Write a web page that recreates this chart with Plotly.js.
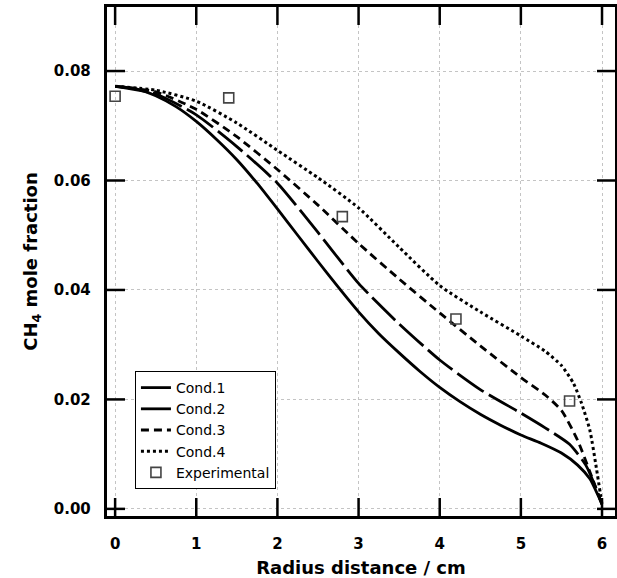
<!DOCTYPE html>
<html>
<head>
<meta charset="utf-8">
<script src="https://cdn.plot.ly/plotly-3.0.1.min.js"></script>
<style>html,body{margin:0;padding:0;background:#fff;}#chart{width:617px;height:578px;}</style>
</head>
<body>
<div id="chart"></div>
<script>
// Model curves
const cond1X = [0, 0.25, 0.5, 0.75, 1, 1.25, 1.5, 1.75, 2, 2.25, 2.5, 2.75, 3, 3.25, 3.5, 3.75, 4, 4.25, 4.5, 4.75, 5, 5.25, 5.5, 5.7, 5.85, 5.95, 6];
const cond1Y = [0.0772, 0.0768, 0.0755, 0.0735, 0.0708, 0.0675, 0.0638, 0.0595, 0.0548, 0.0500, 0.0452, 0.0405, 0.0360, 0.0320, 0.0285, 0.0252, 0.0222, 0.0196, 0.0173, 0.0153, 0.0135, 0.0120, 0.0102, 0.0080, 0.0055, 0.0025, 0.0008];

const cond2X = [0, 0.5, 1, 1.5, 2, 2.5, 3, 3.5, 4, 4.5, 5, 5.3, 5.6, 5.8, 5.92, 6];
const cond2Y = [0.0772, 0.0758, 0.0720, 0.0662, 0.0595, 0.0505, 0.0412, 0.0338, 0.0272, 0.0218, 0.0175, 0.0148, 0.0118, 0.0080, 0.0040, 0.0008];

const cond3X = [0, 0.5, 1, 1.5, 2, 2.5, 3, 3.5, 4, 4.5, 5, 5.3, 5.5, 5.7, 5.85, 6];
const cond3Y = [0.0772, 0.0762, 0.0730, 0.0680, 0.0620, 0.0555, 0.0485, 0.0420, 0.0358, 0.0298, 0.0240, 0.0208, 0.0180, 0.0125, 0.0068, 0.0008];

const cond4X = [0, 0.5, 1, 1.5, 2, 2.5, 3, 3.5, 4, 4.5, 5, 5.3, 5.5, 5.65, 5.75, 5.85, 5.93, 6];
const cond4Y = [0.0772, 0.0765, 0.0745, 0.0705, 0.0655, 0.0605, 0.0550, 0.0478, 0.0408, 0.0360, 0.0316, 0.0288, 0.0262, 0.0229, 0.0192, 0.0144, 0.0075, 0.0008];

// Experimental points
const expX = [0, 1.4, 2.8, 4.2, 5.6];
const expY = [0.0754, 0.0751, 0.0534, 0.0347, 0.0197];

const seriesNames = ["Cond.1", "Cond.2", "Cond.3", "Cond.4", "Experimental"];
const xTicks = [0, 1, 2, 3, 4, 5, 6];
const yTicks = [0.00, 0.02, 0.04, 0.06, 0.08];
const xRange = [-0.1, 6.16];
const yRange = [-0.0013, 0.0917];

const W = 617, H = 578;
const M = {l: 107, r: 2, t: 7, b: 62};
const TICK_LEN = 18;

const lineW = 2.8;
const traces = [
  {x: cond1X, y: cond1Y, name: seriesNames[0], mode: "lines", line: {color: "#000", width: lineW, dash: "solid", shape: "spline", smoothing: 0.6}},
  {x: cond2X, y: cond2Y, name: seriesNames[1], mode: "lines", line: {color: "#000", width: lineW, dash: "32px,6px", shape: "spline", smoothing: 0.6}},
  {x: cond3X, y: cond3Y, name: seriesNames[2], mode: "lines", line: {color: "#000", width: lineW, dash: "8px,5px", shape: "spline", smoothing: 0.6}},
  {x: cond4X, y: cond4Y, name: seriesNames[3], mode: "lines", line: {color: "#000", width: 3, dash: "3px,3px", shape: "spline", smoothing: 0.6}},
  {x: expX, y: expY, name: seriesNames[4], mode: "markers", marker: {symbol: "square-open", size: 10, color: "#444", line: {width: 1.6, color: "#444"}}}
];

// Inward tick marks on all four sides, built from the tick arrays and the axis ranges
const xPerPx = (xRange[1] - xRange[0]) / (W - M.l - M.r);
const yPerPx = (yRange[1] - yRange[0]) / (H - M.t - M.b);
const dxTick = TICK_LEN * xPerPx, dyTick = TICK_LEN * yPerPx;
const tx = [], ty = [];
xTicks.forEach(v => {
  tx.push(v, v, null, v, v, null);
  ty.push(yRange[0], yRange[0] + dyTick, null, yRange[1] - dyTick, yRange[1], null);
});
yTicks.forEach(v => {
  tx.push(xRange[0], xRange[0] + dxTick, null, xRange[1] - dxTick, xRange[1], null);
  ty.push(v, v, null, v, v, null);
});
traces.push({x: tx, y: ty, mode: "lines", line: {color: "#000", width: 2.5}, showlegend: false, hoverinfo: "skip", connectgaps: false});

const layout = {
  width: W, height: H,
  margin: M,
  showlegend: true,
  legend: {
    x: 0.055, y: 0.053, xanchor: "left", yanchor: "bottom",
    bgcolor: "#fff", bordercolor: "#000", borderwidth: 1,
    font: {family: "DejaVu Sans", size: 14, color: "#000"},
    tracegroupgap: 0
  },
  xaxis: {
    range: xRange, tickvals: xTicks, ticktext: xTicks.map(String),
    showline: true, linecolor: "#000", linewidth: 2.5, mirror: true,
    ticks: "", 
    showgrid: true, gridcolor: "#c4c4c4", gridwidth: 1, griddash: "dot", zeroline: false,
    ticklabelstandoff: 12,
    tickfont: {family: "DejaVu Sans", size: 15, color: "#000", weight: 700},
    title: {text: "Radius distance / cm", font: {family: "DejaVu Sans", size: 18, color: "#000", weight: 700}, standoff: 12}
  },
  yaxis: {
    range: yRange, tickvals: yTicks, ticktext: yTicks.map(v => v.toFixed(2) + "\u00a0\u00a0"),
    showline: true, linecolor: "#000", linewidth: 2.5, mirror: true,
    ticks: "",
    showgrid: true, gridcolor: "#c4c4c4", gridwidth: 1, griddash: "dot", zeroline: false,
    tickfont: {family: "DejaVu Sans", size: 15, color: "#000", weight: 700},
    title: {text: "CH<sub>4</sub> mole fraction", font: {family: "DejaVu Sans", size: 18, color: "#000", weight: 700}, standoff: 12}
  }
};

Plotly.newPlot("chart", traces, layout, {displayModeBar: false});
</script>
</body>
</html>
